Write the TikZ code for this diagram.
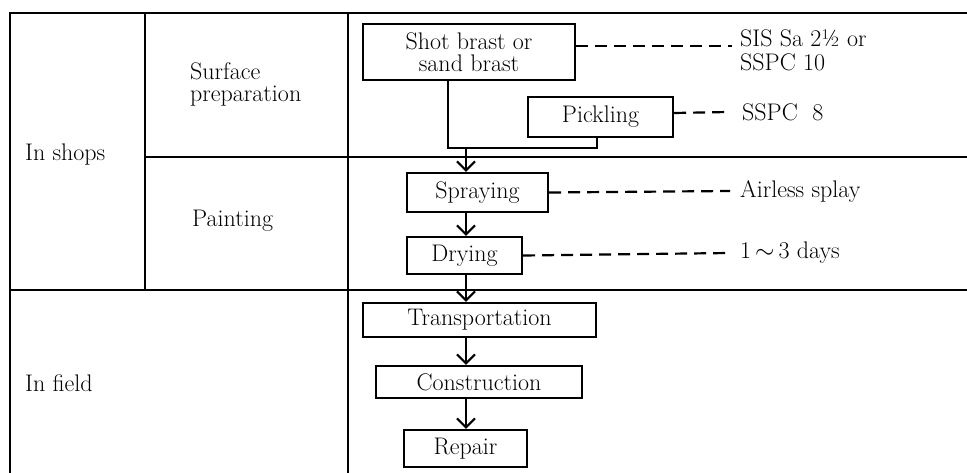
\documentclass[tikz,border=0pt]{standalone}
\usetikzlibrary{arrows.meta,positioning}

\begin{document}
\begin{tikzpicture}[
    x=1pt, y=-1pt,
    font=\fontsize{24}{22}\selectfont,
    align=left,
    grid/.style={line width=2.2pt, line cap=rect},
    proc/.style={rectangle, draw=black, line width=2.2pt, inner sep=0pt, align=center},
    label/.style={anchor=west, inner sep=0pt},
    flow/.style={line width=2.2pt, -{Straight Barb[length=9pt,width=18pt,line width=2.2pt]}},
    link/.style={line width=2.2pt},
    note/.style={line width=2.2pt, dash pattern=on 12pt off 7pt}
  ]

  \useasboundingbox (0,0) rectangle (967,473);

  % the table
  \draw[grid] (10,473) -- (10,13) -- (967,13);
  \draw[grid] (145,13) -- (145,290);
  \draw[grid] (348,13) -- (348,473);
  \draw[grid] (145,157) -- (967,157);
  \draw[grid] (10,290) -- (967,290);

  \node (shops)   [label] at (25,155)  {In shops};
  \node (surface) [label] at (190,84)  {Surface\\preparation};
  \node (paint)   [label] at (192,221) {Painting};
  \node (field)   [label] at (25,383)  {In field};

  % layout the process boxes

  \node (shot)   [proc, minimum width=212pt, minimum height=56pt] at (469,52)    {Shot brast or\\sand brast};
  \node (pick)   [proc, minimum width=145pt, minimum height=40pt] at (600.5,117) {Pickling};
  \node (spray)  [proc, minimum width=141pt, minimum height=39pt] at (477.5,192.5) {Spraying};
  \node (dry)    [proc, minimum width=115pt, minimum height=37pt] at (464.5,255.5) {Drying};
  \node (trans)  [proc, minimum width=233pt, minimum height=34pt] at (479.5,320) {Transportation};
  \node (constr) [proc, minimum width=206pt, minimum height=32pt] at (479,382)   {Construction};
  \node (repair) [proc, minimum width=123pt, minimum height=37pt] at (465.5,448.5) {Repair};

  % notes on the right
  \node (sis)     [label] at (740,50)  {SIS Sa 2\textonehalf{} or\\[2pt]SSPC 10};
  \node (sspc)    [label] at (742,112) {SSPC~~8};
  \node (airless) [label] at (740,191) {Airless splay};
  \node (days)    [label] at (740,253) {1\,$\sim$\,3 days};

  \coordinate (axis)   at (466,0);
  \coordinate (shotx)  at (448,0);
  \coordinate (join)   at (466,148);
  \coordinate (corner) at (597,148);

  % connectors
  \draw[link] (shot.south -| shotx) |- (corner) -- (pick.south -| corner);
  \draw[flow] (join)                 -- (spray.north -| axis);
  \draw[flow] (spray.south -| axis)  -- (dry.north -| axis);
  \draw[flow] (dry.south -| axis)    -- (trans.north -| axis);
  \draw[flow] (trans.south -| axis)  -- (constr.north -| axis);
  \draw[flow] (constr.south -| axis) -- (repair.north -| axis);

  \draw[note] ([yshift=6pt]shot.east) -- ([xshift=-8pt,yshift=4pt]sis.west);
  \draw[note] ([yshift=4pt]pick.east) -- ([xshift=-14pt]sspc.west);
  \draw[note] (spray.east) -- ([xshift=-10pt]airless.west);
  \draw[note] (dry.east)   -- ([xshift=-10pt]days.west);

\end{tikzpicture}
\end{document}
